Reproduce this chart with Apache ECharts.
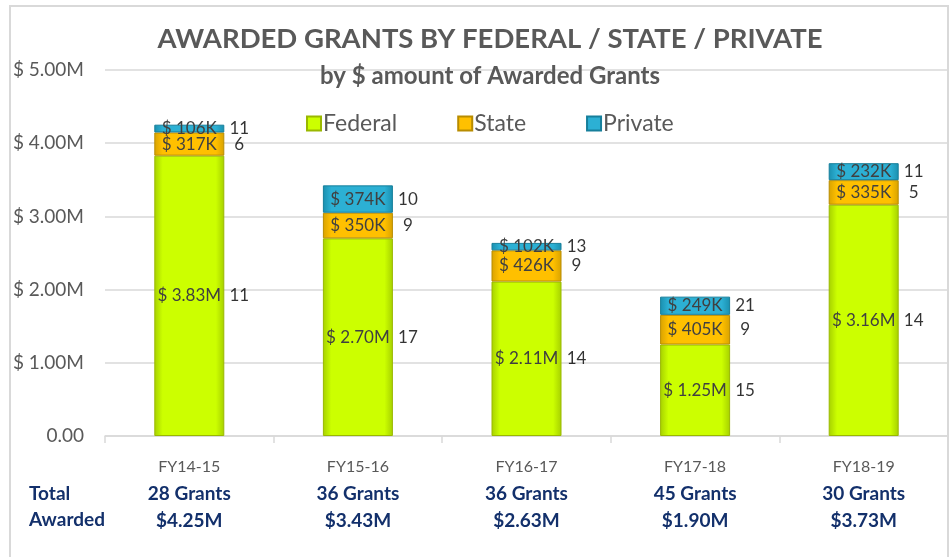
<!DOCTYPE html>
<html>
<head>
<meta charset="utf-8">
<script src="https://cdn.jsdelivr.net/npm/echarts@6/dist/echarts.min.js"></script>
<style>
  html, body { margin: 0; padding: 0; background: #fff; }
  #chart { width: 952px; height: 557px; }
</style>
</head>
<body>
<div id="chart"></div>
<script>
  // values in $ millions
  const categories = ['FY14-15', 'FY15-16', 'FY16-17', 'FY17-18', 'FY18-19'];
  const federal = [3.83, 2.70, 2.11, 1.25, 3.16];
  const state = [0.317, 0.350, 0.426, 0.405, 0.335];
  const priv = [0.106, 0.374, 0.102, 0.249, 0.232];
  // number of grants per segment
  const federalCount = [11, 17, 14, 15, 14];
  const stateCount = [6, 9, 9, 9, 5];
  const privateCount = [11, 10, 13, 21, 11];
  const totalGrants = ['28 Grants', '36 Grants', '36 Grants', '45 Grants', '30 Grants'];
  const totalAmount = ['$4.25M', '$3.43M', '$2.63M', '$1.90M', '$3.73M'];
  const yTickLabels = ['0.00', '$ 1.00M', '$ 2.00M', '$ 3.00M', '$ 4.00M', '$ 5.00M'];

  const FONT = 'Lato, "Open Sans", sans-serif';
  const NAVY = '#13306b';

  function bevel(edge, mid) {
    return new echarts.graphic.LinearGradient(0, 0, 1, 0, [
      {offset: 0, color: edge},
      {offset: 0.12, color: mid},
      {offset: 0.88, color: mid},
      {offset: 1, color: edge}
    ]);
  }

  // count labels sit beside the middle of each stacked segment
  function countSeries(vals, base, counts) {
    return {
      type: 'scatter',
      silent: true,
      symbolSize: 1,
      itemStyle: {color: 'rgba(0,0,0,0)'},
      z: 10,
      data: vals.map((v, i) => [i, base[i] + v / 2]),
      label: {
        show: true,
        position: 'inside',
        offset: [50, 0],
        color: '#000',
        fontFamily: FONT,
        fontSize: 17,
        formatter: p => String(counts[p.dataIndex])
      }
    };
  }

  const zero = federal.map(() => 0);
  const stateBase = federal.slice();
  const privBase = federal.map((v, i) => v + state[i]);

  const chart = echarts.init(document.getElementById('chart'));
  chart.setOption({
    backgroundColor: '#fff',
    animation: false,
    title: [{
      text: 'AWARDED GRANTS BY FEDERAL / STATE / PRIVATE',
      left: 485, top: 20, textAlign: 'center',
      textStyle: {color: '#595959', fontSize: 27.5, fontWeight: 'bold', fontFamily: FONT}
    }, {
      text: 'by $ amount of Awarded Grants',
      left: 485, top: 59, textAlign: 'center',
      textStyle: {color: '#595959', fontSize: 24, fontWeight: 'bold', fontFamily: FONT}
    }],
    legend: {
      top: 107, left: 301,
      itemWidth: 14, itemHeight: 14, itemGap: 60,
      icon: 'rect',
      textStyle: {color: '#595959', fontSize: 23, fontFamily: FONT, padding: [0, 0, 0, -3]},
      data: ['Federal', 'State', 'Private']
    },
    graphic: [{
      type: 'rect',
      shape: {x: 10, y: 6, width: 938, height: 600},
      style: {fill: 'none', stroke: '#d9d9d9', lineWidth: 2},
      silent: true
    }, {
      type: 'text', left: 29, top: 481,
      style: {text: 'Total\nAwarded', fill: NAVY, font: 'bold 19px ' + FONT, lineHeight: 26}
    }],
    grid: {left: 105, right: 4, top: 70, bottom: 121},
    xAxis: {
      type: 'category',
      data: categories,
      axisLine: {lineStyle: {color: '#d9d9d9', width: 1.5}},
      axisTick: {show: true, length: 7, lineStyle: {color: '#d9d9d9', width: 1.5}},
      axisLabel: {
        margin: 17,
        formatter: (v, i) => '{c|' + v + '}\n{g|' + totalGrants[i] + '}\n{g|' + totalAmount[i] + '}',
        rich: {
          c: {color: '#595959', fontSize: 16, fontFamily: FONT, lineHeight: 27},
          g: {color: NAVY, fontSize: 19, fontWeight: 'bold', fontFamily: FONT, lineHeight: 27}
        }
      }
    },
    yAxis: {
      type: 'value',
      min: 0, max: 5, interval: 1,
      axisLine: {show: false},
      axisTick: {show: false},
      splitLine: {lineStyle: {color: '#d9d9d9', width: 1.5}},
      axisLabel: {
        margin: 21,
        color: '#595959', fontSize: 19, fontFamily: FONT,
        formatter: v => yTickLabels[Math.round(v)]
      }
    },
    series: [{
      name: 'Federal', type: 'bar', stack: 'total', barWidth: 70,
      data: federal,
      itemStyle: {color: bevel('#a6d000', '#ccff00'), borderColor: '#9ab800', borderWidth: 1},
      label: {
        show: true, position: 'inside', color: '#404040', fontSize: 17, fontFamily: FONT,
        formatter: p => '$ ' + p.value.toFixed(2) + 'M'
      }
    }, {
      name: 'State', type: 'bar', stack: 'total', barWidth: 70,
      data: state,
      itemStyle: {color: bevel('#d8a200', '#ffc000'), borderColor: '#b88c00', borderWidth: 1},
      label: {
        show: true, position: 'inside', color: '#404040', fontSize: 17, fontFamily: FONT,
        formatter: p => '$ ' + Math.round(p.value * 1000) + 'K'
      }
    }, {
      name: 'Private', type: 'bar', stack: 'total', barWidth: 70,
      data: priv,
      itemStyle: {color: bevel('#1a8fae', '#2cb0d4'), borderColor: '#167f9b', borderWidth: 1},
      label: {
        show: true, position: 'inside', color: '#404040', fontSize: 17, fontFamily: FONT,
        formatter: p => '$ ' + Math.round(p.value * 1000) + 'K'
      }
    },
      countSeries(federal, zero, federalCount),
      countSeries(state, stateBase, stateCount),
      countSeries(priv, privBase, privateCount)
    ]
  });
</script>
</body>
</html>
